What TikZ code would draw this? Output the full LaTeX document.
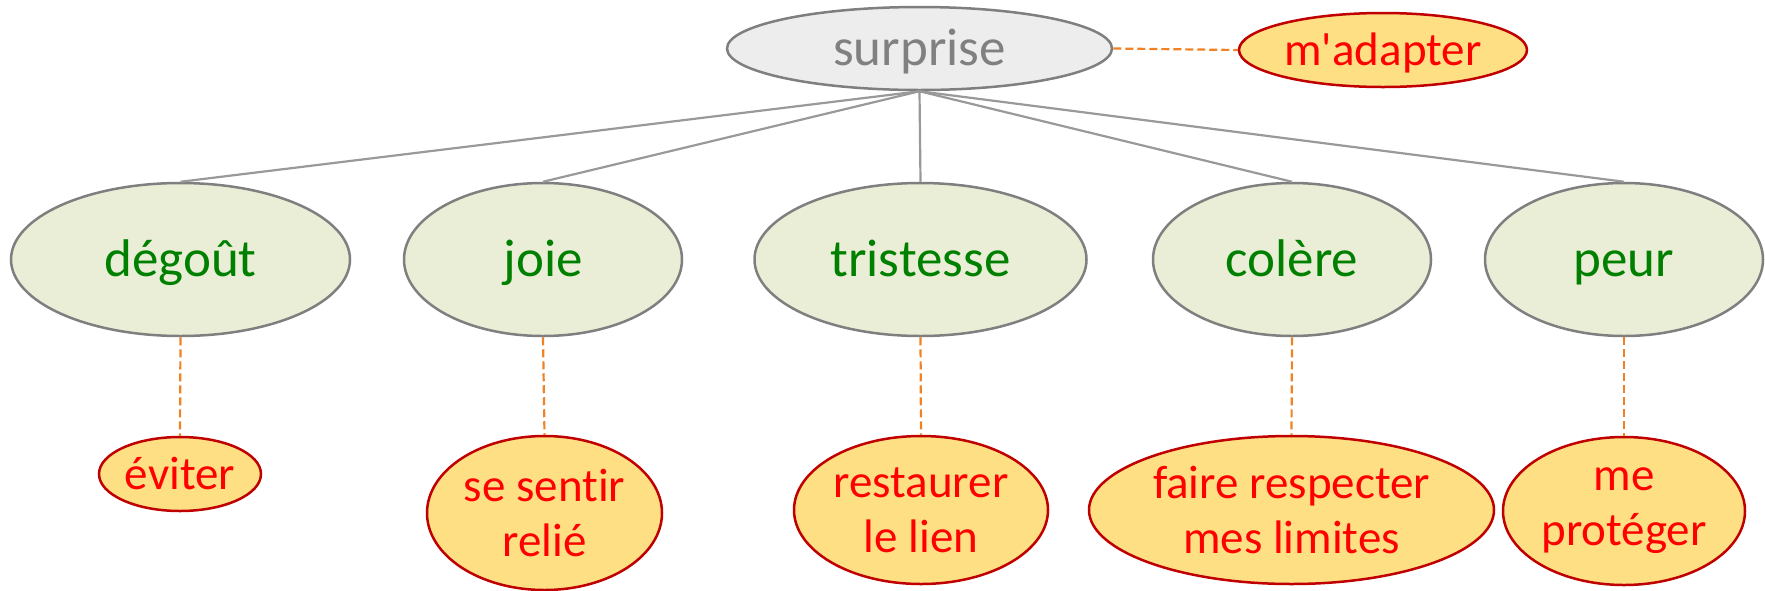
\documentclass[tikz,border=0pt]{standalone}
\usepackage{fontspec}
\setmainfont{Carlito}[Ligatures={NoCommon,NoRequired,NoContextual}]
\usetikzlibrary{shapes.geometric}
\definecolor{topfill}{HTML}{EDEDED}
\definecolor{topdraw}{HTML}{7F7F7F}
\definecolor{toptext}{HTML}{808080}
\definecolor{midfill}{HTML}{EBEED7}
\definecolor{midtext}{HTML}{008000}
\definecolor{lowfill}{HTML}{FFDF83}
\definecolor{lowdraw}{HTML}{C00000}
\definecolor{lowtext}{HTML}{FF0000}
\definecolor{dashcol}{HTML}{F08224}
\definecolor{linkcol}{HTML}{999999}
\tikzset{
  el/.style={ellipse, inner sep=0pt, align=center},
  topel/.style={el, fill=topfill, draw=topdraw, line width=2.5pt, text=toptext, font=\fontsize{53}{62}\selectfont, text height=42pt, text depth=8.3pt},
  midel/.style={el, fill=midfill, draw=topdraw, line width=2.5pt, text=midtext, font=\fontsize{53}{62}\selectfont, text height=42pt, text depth=8.3pt},
  lowel/.style={el, fill=lowfill, draw=lowdraw, line width=2.5pt, text=lowtext, font=\fontsize{47}{55}\selectfont},
  lowone/.style={lowel, text height=38pt, text depth=7.1pt},
  link/.style={draw=linkcol, line width=2.2pt},
  dlink/.style={draw=dashcol, line width=2.2pt, dash pattern=on 8pt off 4pt},
}
\begin{document}
\begin{tikzpicture}[x=1pt,y=-1pt]
\useasboundingbox (0,0) rectangle (1765,590);
\node[topel, minimum width=385pt, minimum height=83pt] (sur) at (919.5,48.5) {surprise};
\node[lowone, minimum width=288pt, minimum height=74pt] (ada) at (1383,50) {m\textquotesingle adapter};
\node[midel, minimum width=339pt, minimum height=153pt] (deg) at (180.5,259.5) {dégoût};
\node[midel, minimum width=278pt, minimum height=153pt] (joi) at (543,259.5) {joie};
\node[midel, minimum width=332pt, minimum height=153pt] (tri) at (920.5,259.5) {tristesse};
\node[midel, minimum width=278pt, minimum height=153pt] (col) at (1292,259.5) {colère};
\node[midel, minimum width=278pt, minimum height=153pt] (peu) at (1624,259.5) {peur};
\node[lowone, minimum width=162pt, minimum height=74pt] (evi) at (180,474) {éviter};
\node[lowel, minimum width=235pt, minimum height=154pt] (rel) at (544.5,513) {se sentir\\relié};
\node[lowel, minimum width=254pt, minimum height=148pt] (res) at (921,510) {restaurer\\le lien};
\node[lowel, minimum width=405pt, minimum height=148pt] (lim) at (1291.5,510) {faire respecter\\mes limites};
\node[lowel, minimum width=242pt, minimum height=148pt] (pro) at (1624,511) {me\\protéger};
\draw[link] (sur.south) -- (deg.north);
\draw[link] (sur.south) -- (joi.north);
\draw[link] (sur.south) -- (tri.north);
\draw[link] (sur.south) -- (col.north);
\draw[link] (sur.south) -- (peu.north);
\draw[dlink] (sur.east) -- (ada.west);
\draw[dlink] (deg.south) -- (evi.north);
\draw[dlink] (joi.south) -- (rel.north);
\draw[dlink] (tri.south) -- (res.north);
\draw[dlink] (col.south) -- (lim.north);
\draw[dlink] (peu.south) -- (pro.north);
\end{tikzpicture}
\end{document}
